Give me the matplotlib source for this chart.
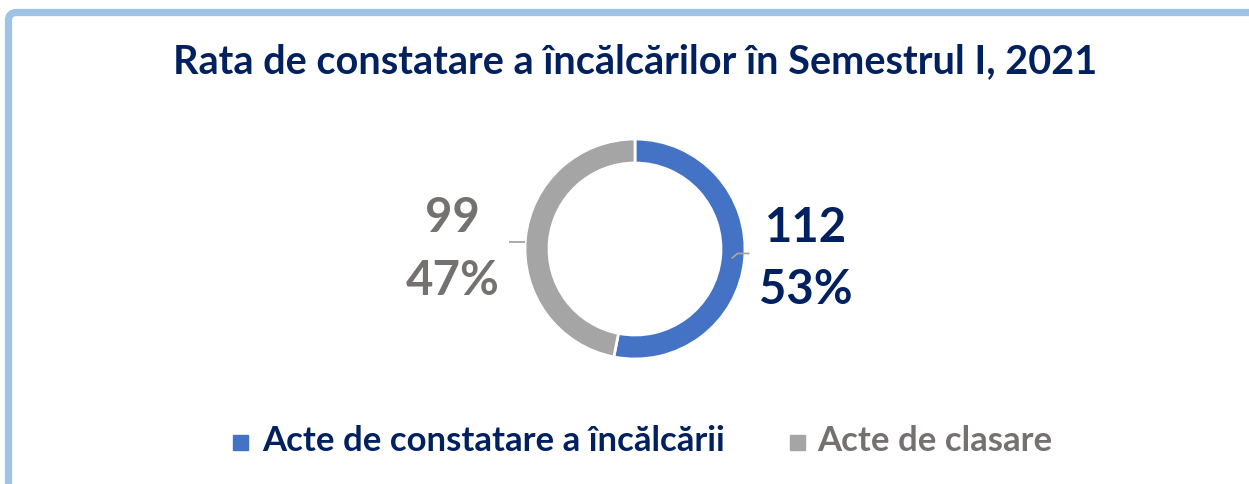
import matplotlib
matplotlib.use("Agg")
import matplotlib.pyplot as plt
import numpy as np
from matplotlib.patches import FancyBboxPatch, Rectangle

# Data
labels = ["Acte de constatare a încălcării", "Acte de clasare"]
values = [112, 99]
colors = ["#4472C4", "#A5A5A5"]
text_colors = ["#002060", "#767171"]
title = "Rata de constatare a încălcărilor în Semestrul I, 2021"

W, H = 1249, 485
plt.rcParams["font.family"] = ["Lato", "DejaVu Sans"]

fig = plt.figure(figsize=(W / 100, H / 100), dpi=100)
ax = fig.add_axes([0, 0, 1, 1])


def py(y):
    # pixel row (from top) -> data y
    return H - y


# light blue frame (only top/left edges visible)
frame = FancyBboxPatch((8.5, py(H + 60)), W + 60, H + 60 - 13.5,
                       boxstyle="round,pad=0,rounding_size=8",
                       fill=False, edgecolor="#9DC3E6", linewidth=5.2)
ax.add_patch(frame)

# title
ax.text(635, py(62), title, ha="center", va="center", fontsize=28.5,
        fontweight="bold", color="#002060")

# donut
cx, cy, r, ring = 635, py(250), 110, 24
wedges, _ = ax.pie(values, colors=colors, startangle=90, counterclock=False,
                   center=(cx, cy), radius=r,
                   wedgeprops=dict(width=ring, edgecolor="white", linewidth=2))

# data labels with leader lines
total = sum(values)
pcts = [round(v / total * 100) for v in values]
for w, v, p, tc in zip(wedges, values, pcts, text_colors):
    mid = np.deg2rad((w.theta1 + w.theta2) / 2)
    sx = cx + (r - 12) * np.cos(mid)
    sy = cy + (r - 12) * np.sin(mid)
    if np.cos(mid) > 0:
        xs = [sx - 1, sx + 5, sx + 17]
        ys = [sy, sy + 5, sy + 5]
        tx, ty = xs[-1] + 56, ys[-1]
        top, bot = ty + 26, ty - 36
    else:
        xs = [sx - 12, sx - 28]
        ys = [sy - 2.5, sy - 2.5]
        tx, ty = xs[-1] - 57, ys[-1]
        top, bot = ty + 25, ty - 38
    ax.plot(xs, ys, color="#A5A5A5", linewidth=1.3, solid_capstyle="butt")
    ax.text(tx, top, f"{v}", ha="center", va="center", fontsize=34,
            fontweight="bold", color=tc)
    ax.text(tx, bot, f"{p}%", ha="center", va="center", fontsize=34,
            fontweight="bold", color=tc)

# legend
sq_x = [233, 790]
txt_x = [262, 817]
for x0, x1, lab, c, tc in zip(sq_x, txt_x, labels, colors, text_colors):
    ax.add_patch(Rectangle((x0, py(451)), 15, 15, color=c))
    ax.text(x1, py(441), lab, ha="left", va="center", fontsize=25,
            fontweight="bold", color=tc)

ax.set_xlim(0, W)
ax.set_ylim(0, H)
ax.set_aspect("auto")
ax.axis("off")

fig.savefig("out.png", dpi=100, facecolor="white")
